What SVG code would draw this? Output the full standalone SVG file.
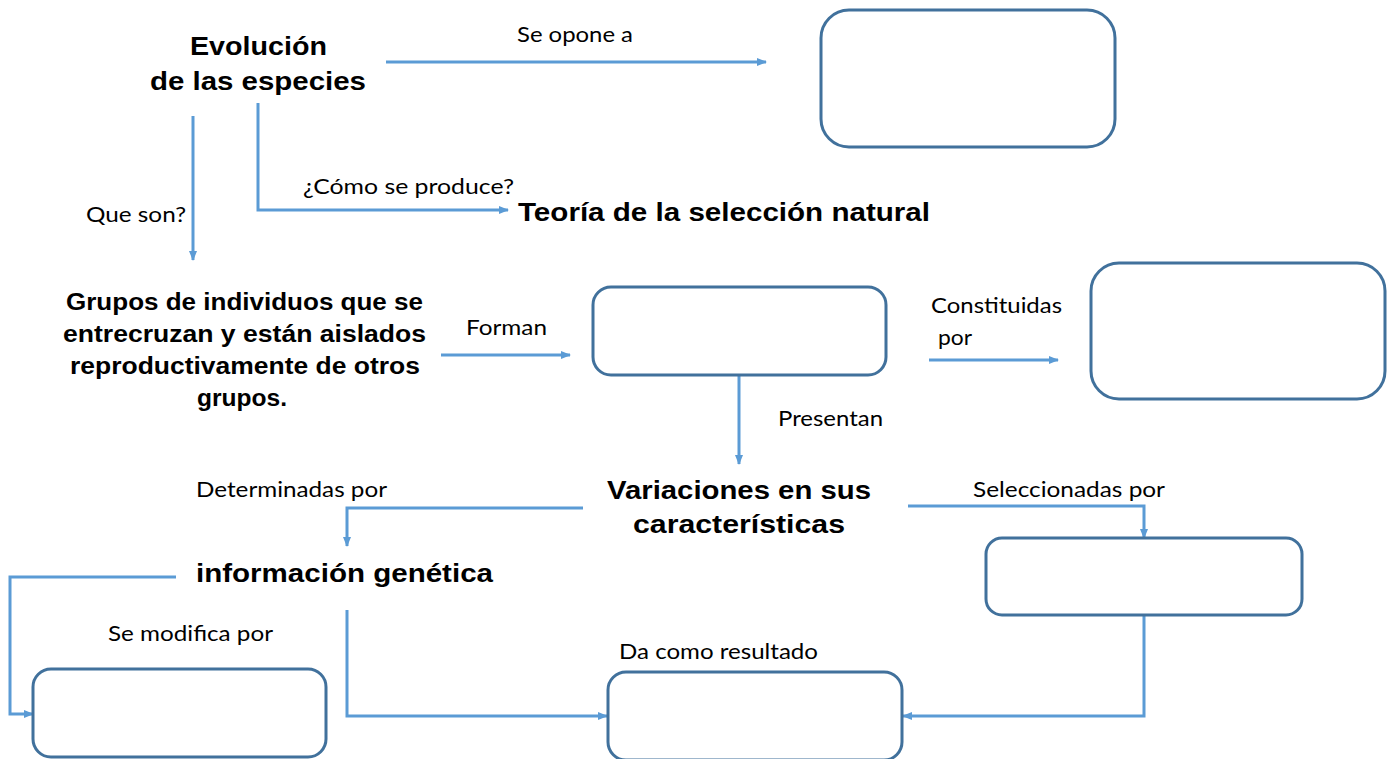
<svg xmlns="http://www.w3.org/2000/svg" width="1391" height="759" viewBox="0 0 1391 759">
<style>
.box{fill:#fff;stroke:#41719C;stroke-width:3}
.con{fill:none;stroke:#5B9BD5;stroke-width:3}
.t{font-family:"Liberation Sans",Arial,sans-serif;font-weight:bold;fill:#000}
.l{font-family:Lato,"Liberation Sans",sans-serif;font-size:22px;fill:#000}
</style>
<defs>
<marker id="ah" markerUnits="userSpaceOnUse" markerWidth="10" markerHeight="10" viewBox="0 0 10 10" refX="9" refY="5" orient="auto">
<path d="M0,1 L10,5 L0,9 Z" fill="#5B9BD5"/>
</marker>
</defs>
<rect width="1391" height="759" fill="#fff"/>
<g id="connectors">
<path class="con" d="M386,62 H766" marker-end="url(#ah)"/>
<path class="con" d="M258,103 V210 H508" marker-end="url(#ah)"/>
<path class="con" d="M193,116 V260" marker-end="url(#ah)"/>
<path class="con" d="M441,355 H570" marker-end="url(#ah)"/>
<path class="con" d="M929,360 H1058" marker-end="url(#ah)"/>
<path class="con" d="M739,375 V464" marker-end="url(#ah)"/>
<path class="con" d="M583,508 H347 V546" marker-end="url(#ah)"/>
<path class="con" d="M176,577 H10 V714 H33" marker-end="url(#ah)"/>
<path class="con" d="M347,610 V716 H607" marker-end="url(#ah)"/>
<path class="con" d="M908,506 H1144 V538" marker-end="url(#ah)"/>
<path class="con" d="M1144,615 V716 H903" marker-end="url(#ah)"/>
</g>
<g id="labels">
<text class="l" x="517" y="42" textLength="116" lengthAdjust="spacingAndGlyphs">Se opone a</text>
<text class="l" x="303" y="194" textLength="211" lengthAdjust="spacingAndGlyphs">¿Cómo se produce?</text>
<text class="l" x="86" y="222" textLength="100" lengthAdjust="spacingAndGlyphs">Que son?</text>
<text class="l" x="466" y="335" textLength="81" lengthAdjust="spacingAndGlyphs">Forman</text>
<text class="l" x="931" y="313" textLength="131" lengthAdjust="spacingAndGlyphs">Constituidas</text>
<text class="l" x="938" y="345" textLength="34" lengthAdjust="spacingAndGlyphs">por</text>
<text class="l" x="778" y="426" textLength="105" lengthAdjust="spacingAndGlyphs">Presentan</text>
<text class="l" x="196" y="497" textLength="191" lengthAdjust="spacingAndGlyphs">Determinadas por</text>
<text class="l" x="973" y="497" textLength="192" lengthAdjust="spacingAndGlyphs">Seleccionadas por</text>
<text class="l" x="108" y="641" textLength="165" lengthAdjust="spacingAndGlyphs">Se modifica por</text>
<text class="l" x="619" y="659" textLength="199" lengthAdjust="spacingAndGlyphs">Da como resultado</text>
</g>
<g id="evolucion">
<text class="t" font-size="25" x="190" y="55" textLength="137" lengthAdjust="spacingAndGlyphs">Evolución</text>
<text class="t" font-size="25" x="150" y="90" textLength="216" lengthAdjust="spacingAndGlyphs">de las especies</text>
</g>
<g id="teoria">
<text class="t" font-size="26" x="518" y="221" textLength="412" lengthAdjust="spacingAndGlyphs">Teoría de la selección natural</text>
</g>
<g id="grupos">
<text class="t" font-size="23" x="66" y="310" textLength="357" lengthAdjust="spacingAndGlyphs">Grupos de individuos que se</text>
<text class="t" font-size="23" x="63" y="342" textLength="363" lengthAdjust="spacingAndGlyphs">entrecruzan y están aislados</text>
<text class="t" font-size="23" x="70" y="374" textLength="350" lengthAdjust="spacingAndGlyphs">reproductivamente de otros</text>
<text class="t" font-size="23" x="197" y="406" textLength="90" lengthAdjust="spacingAndGlyphs">grupos.</text>
</g>
<g id="variaciones">
<text class="t" font-size="25" x="607" y="499" textLength="264" lengthAdjust="spacingAndGlyphs">Variaciones en sus</text>
<text class="t" font-size="25" x="633" y="533" textLength="212" lengthAdjust="spacingAndGlyphs">características</text>
</g>
<g id="informacion">
<text class="t" font-size="25" x="196" y="582" textLength="297" lengthAdjust="spacingAndGlyphs">información genética</text>
</g>
<g id="box-opone"><rect class="box" x="821" y="10" width="294" height="137" rx="28"/></g>
<g id="box-forman"><rect class="box" x="593" y="287" width="293" height="88" rx="18"/></g>
<g id="box-constituidas"><rect class="box" x="1091" y="263" width="294" height="136" rx="28"/></g>
<g id="box-seleccionadas"><rect class="box" x="986" y="538" width="316" height="77" rx="16"/></g>
<g id="box-modifica"><rect class="box" x="33" y="669" width="293" height="88" rx="18"/></g>
<g id="box-resultado"><rect class="box" x="608" y="672" width="294" height="88" rx="18"/></g>
</svg>
